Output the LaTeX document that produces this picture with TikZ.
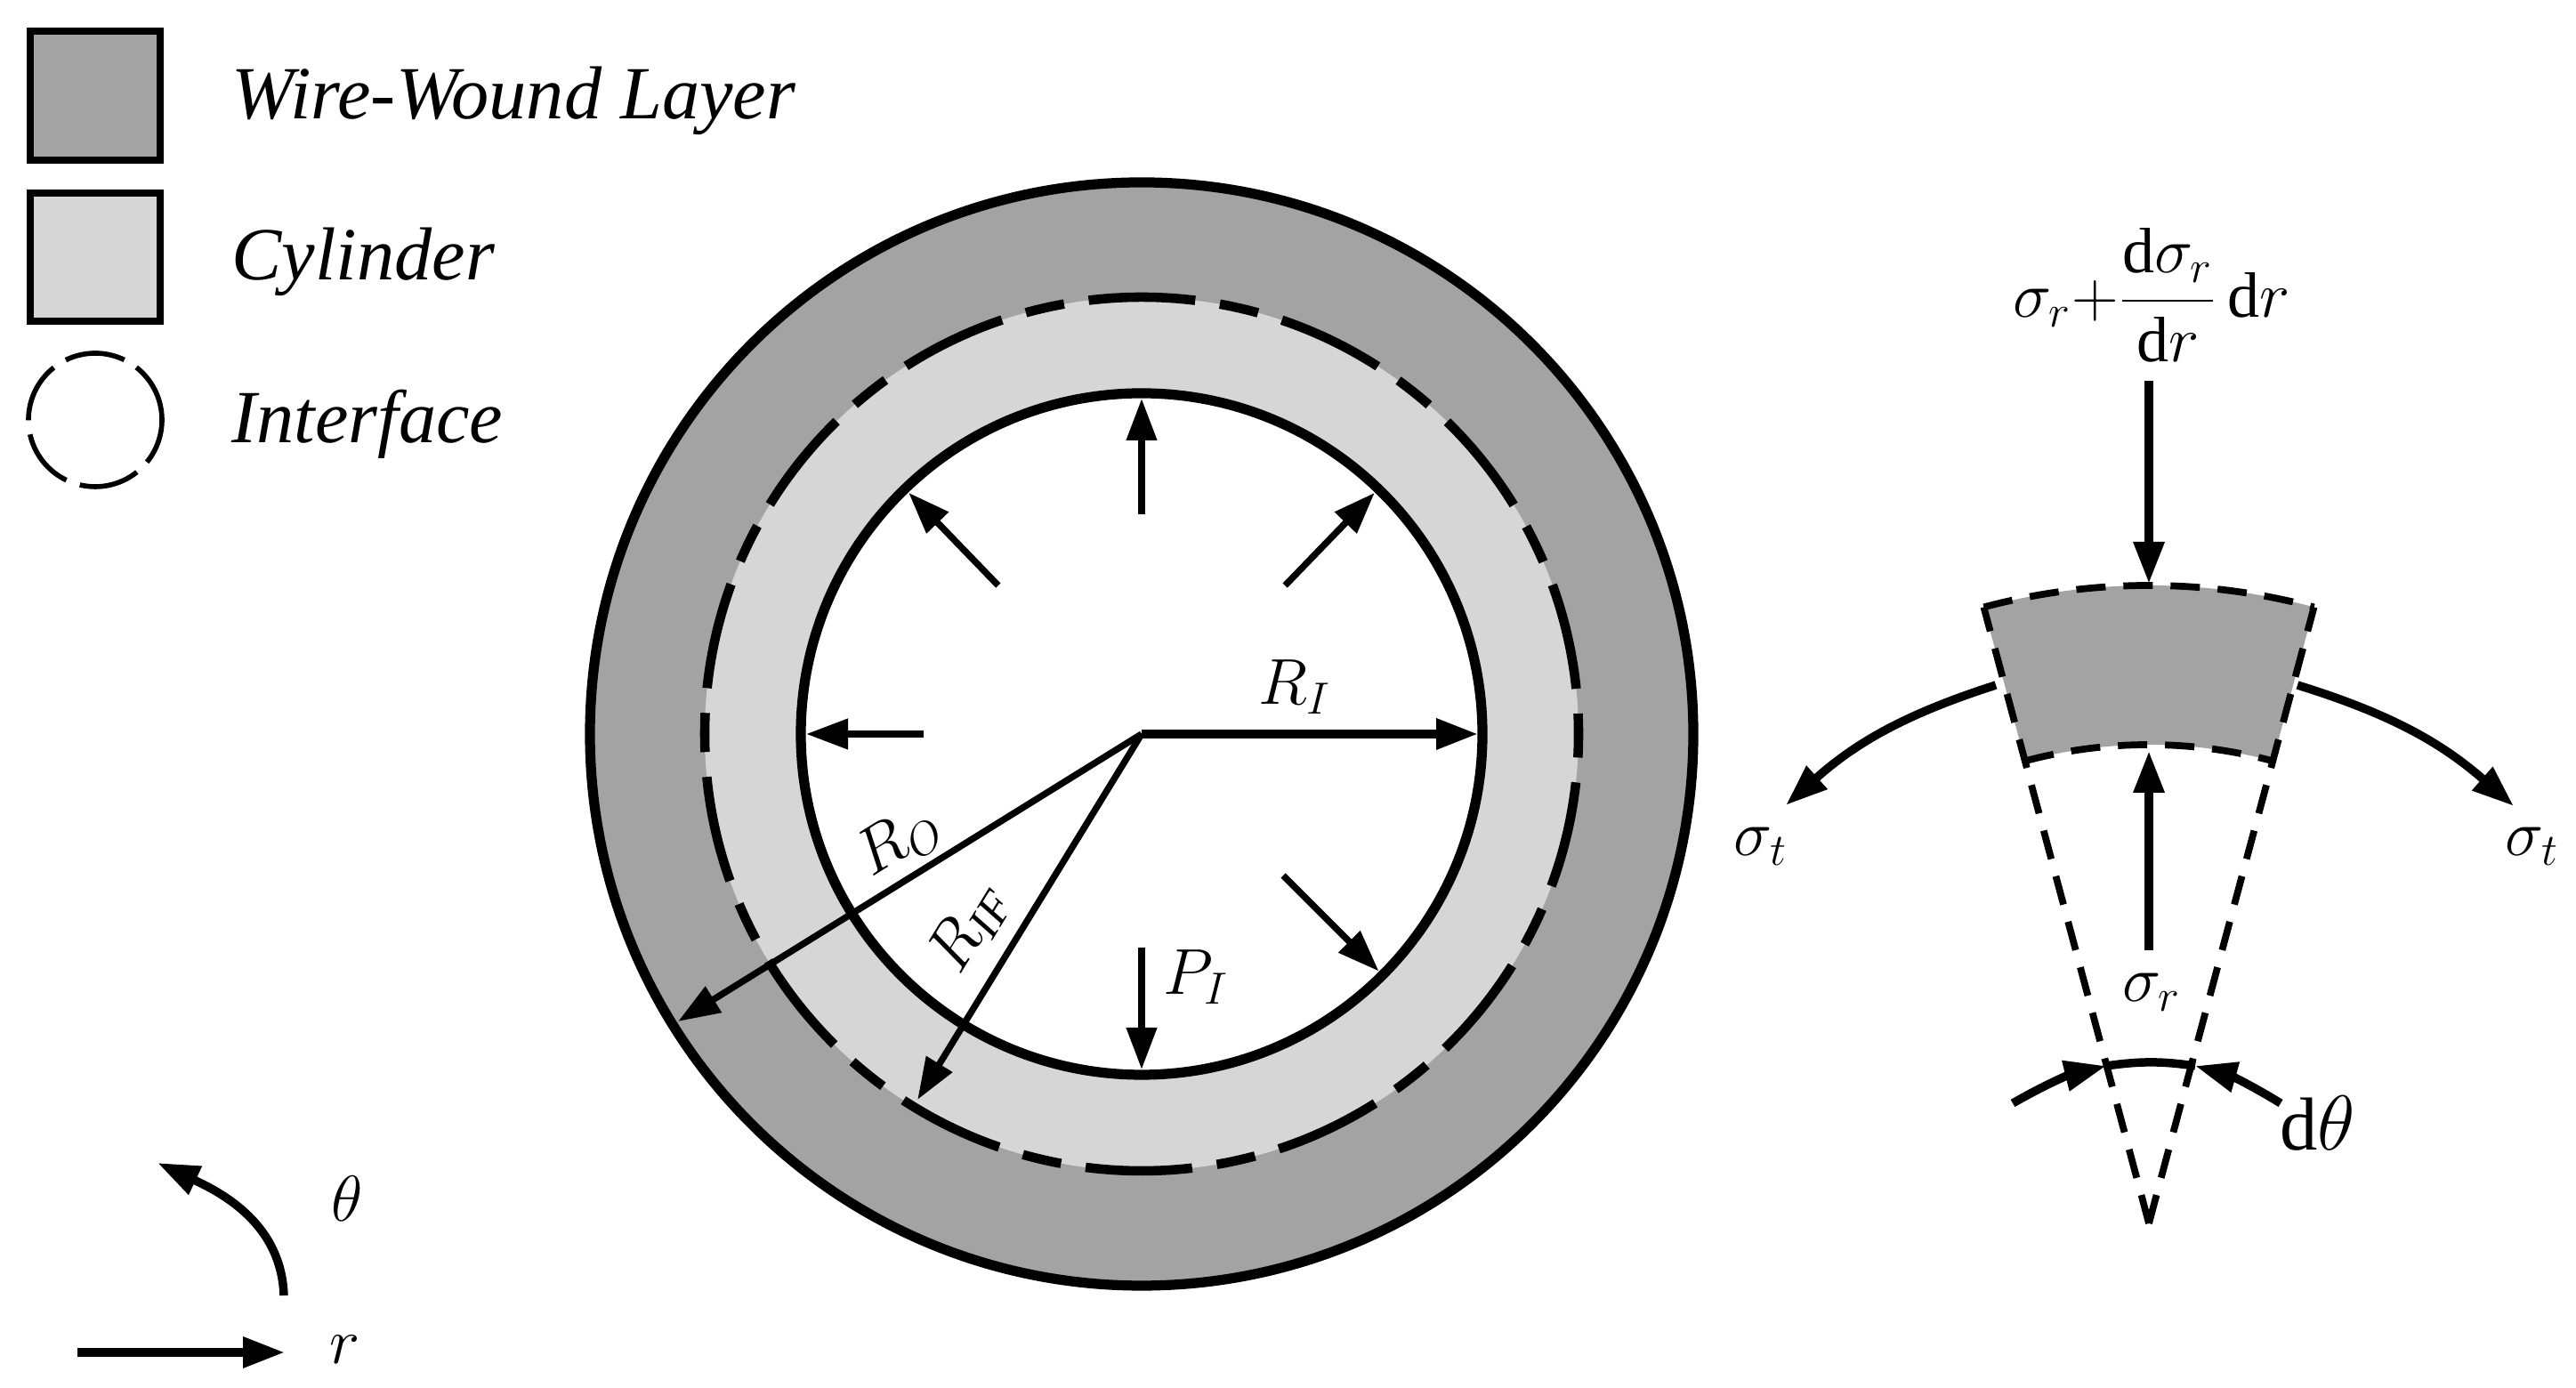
\documentclass[tikz,border=0pt]{standalone}
\usepackage{amsmath,amssymb}
\usepackage{fontspec}
\setmainfont{Liberation Serif}
\usetikzlibrary{arrows.meta,calc}
\definecolor{woundgray}{HTML}{A3A3A3}
\definecolor{cylgray}{HTML}{D6D6D6}
\tikzset{
  >={Triangle[length=0.47cm,width=0.33cm]},
  load/.style={->,line width=2.1pt},
  heavy/.style={->,line width=2.7pt},
  ring/.style={line width=3.2pt},
  swatch/.style={line width=2.3pt},
  ifdash/.style={line width=3pt,dash pattern=on 1.2cm off 0.28cm on 0.44cm off 0.28cm,dash phase=1.69cm},
  wedgedash/.style={line width=2.2pt,dash pattern=on 0.33cm off 0.2cm},
  keytext/.style={anchor=base west,inner sep=0pt,font=\fontsize{24}{28}\selectfont\itshape},
  symb/.style={inner sep=0pt,font=\fontsize{21}{25}\selectfont},
}
\begin{document}
\begin{tikzpicture}
\useasboundingbox (0,0) rectangle (28.95,15.6);
\coordinate (ctr) at (12.83,7.35);
\coordinate (apex) at (24.15,1.85);

% Legend
\draw[swatch,fill=woundgray] (0.34,13.8) rectangle (1.8,15.25);
\draw[swatch,fill=cylgray] (0.34,11.99) rectangle (1.8,13.43);
\draw[line width=1.6pt,dash pattern=on 0.68cm off 0.16cm] (1.07,10.88) circle (0.75);
\node[keytext] (keywound) at (2.6,14.26) {Wire-Wound Layer};
\node[keytext] (keycyl) at (2.6,12.45) {Cylinder};
\node[keytext] (keyif) at (2.6,10.62) {Interface};

% Rings
\fill[woundgray] (ctr) circle (6.2);
\draw[ring] (ctr) circle (6.2);
\fill[cylgray] (ctr) circle (4.91);
\draw[ifdash] (ctr) circle (4.91);
\draw[ring,fill=white] (ctr) circle (3.83);

% Internal pressure
\foreach \ang/\rad in {90/2.47, 46/2.32, 134/2.32, 180/2.45, -45/2.25, -90/2.4} {
    \draw[load] ($(ctr)+(\ang:\rad)$) -- ($(ctr)+(\ang:3.77)$);
}

% Radii
\draw[heavy] (ctr) -- ($(ctr)+(0:3.78)$);
\draw[load] (ctr) -- ($(ctr)+(211.8:6.13)$);
\draw[load] (ctr) -- ($(ctr)+(238.5:4.82)$);
\node[symb] (ri) at (14.55,7.88) {$R_{I}$};
\node[symb,rotate=32] (ro) at (10.1,6.15) {$R_{O}$};
\node[symb,rotate=58.5] (rif) at (10.89,5.17) {$R_{\mathit{IF}}$};
\node[symb] (pi) at (13.44,4.62) {$P_{I}$};

% Stress element
\fill[woundgray] ($(apex)+(105:7.17)$) arc (105:75:7.17) -- ($(apex)+(75:5.38)$) arc (75:105:5.38) -- cycle;
\draw[wedgedash] ($(apex)+(105:7.17)$) arc (105:75:7.17);
\draw[wedgedash] ($(apex)+(105:5.38)$) arc (105:75:5.38);
\draw[wedgedash] (apex) -- ($(apex)+(105:7.17)$);
\draw[wedgedash] (apex) -- ($(apex)+(75:7.17)$);

% Stresses on element
\coordinate (topfree) at (24.15,11.32);
\coordinate (toptip) at (24.15,9.04);
\coordinate (botfree) at (24.15,4.92);
\coordinate (bottip) at (24.15,7.16);
\draw[heavy] (topfree) -- (toptip);
\draw[heavy] (botfree) -- (bottip);
\draw[heavy] (22.43,7.9) to[bend right=12] (20.07,6.55);
\draw[heavy] (25.82,7.9) to[bend left=12] (28.25,6.54);
\node[symb,font=\fontsize{20.5}{24}\selectfont] (sigtop) at (24.18,12.28) {$\sigma_{r}{+}\dfrac{\mathrm{d}\sigma_{r}}{\mathrm{d}r}\,\mathrm{d}r$};
\node[symb] (sigbot) at (24.18,4.45) {$\sigma_{r}$};
\node[symb] (sigleft) at (19.79,6.09) {$\sigma_{t}$};
\node[symb] (sigright) at (28.46,6.09) {$\sigma_{t}$};

% Angle of element
\draw[heavy] (22.62,3.2) to[bend left=8] (23.67,3.62);
\draw[heavy] (25.63,3.2) to[bend right=8] (24.67,3.62);
\draw[line width=2.7pt] (23.67,3.62) to[bend left=8] (24.67,3.62);
\node[symb,font=\fontsize{24}{28}\selectfont] (dth) at (26.05,2.97) {$\mathrm{d}\theta$};

% Polar axes
\draw[heavy] (3.19,1.04) to[out=92,in=-25] (1.77,2.53);
\draw[heavy] (0.87,0.4) -- (3.2,0.4);
\node[symb] (thlab) at (3.9,2.13) {$\theta$};
\node[symb] (rlab) at (3.88,0.43) {$r$};
\end{tikzpicture}
\end{document}
